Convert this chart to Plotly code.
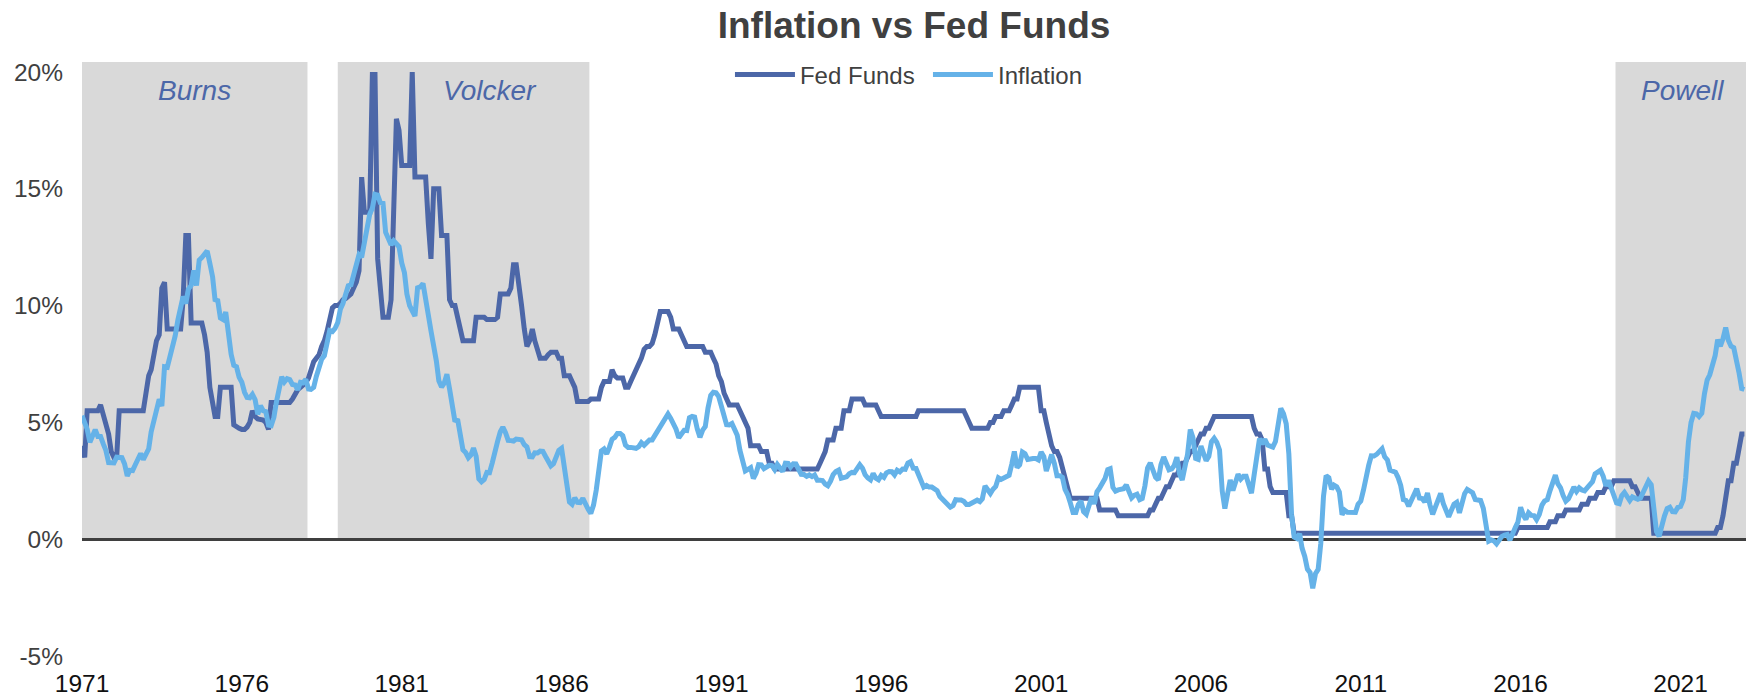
import pandas as pd
import plotly.graph_objects as go

FED_COLOR = "#4C67A8"
CPI_COLOR = "#65B2E8"
BAND_COLOR = "#D9D9D9"
TEXT_DARK = "#404040"
FONT = "Liberation Sans, Arial, sans-serif"

# monthly values, Jan 1971 .. Jan 2023 (one row per year)
fed_funds = [
    4.0, 3.5, 5.5, 5.5, 5.5, 5.5, 5.5, 5.75, 5.25, 5.0, 4.5, 3.75,
    3.5, 3.5, 5.5, 5.5, 5.5, 5.5, 5.5, 5.5, 5.5, 5.5, 5.5, 5.5,
    6.25, 7.0, 7.25, 8.0, 8.5, 8.75, 10.75, 11.0, 9.0, 9.0, 9.0, 9.0,
    9.0, 9.0, 10.25, 13.0, 13.0, 9.25, 9.25, 9.25, 9.25, 9.25, 8.75, 8.0,
    6.5, 5.75, 5.25, 5.25, 6.5, 6.5, 6.5, 6.5, 6.5, 4.9, 4.8, 4.75,
    4.7, 4.7, 4.8, 5.0, 5.5, 5.25, 5.15, 5.15, 5.1, 5.0, 4.7, 5.85,
    5.85, 5.85, 5.85, 5.85, 5.85, 5.85, 5.85, 6.0, 6.25, 6.4, 6.5, 6.6,
    6.7, 6.9, 7.2, 7.6, 7.75, 7.9, 8.25, 8.5, 8.9, 9.5, 9.9, 10.0,
    10.0, 10.1, 10.25, 10.3, 10.4, 10.5, 10.75, 11.0, 11.5, 15.5, 14.0, 14.0,
    14.0, 20.0, 20.0, 12.0, 10.5, 9.5, 9.5, 9.5, 10.25, 14.0, 18.0, 17.5,
    16.0, 16.0, 16.0, 16.0, 20.0, 15.5, 15.5, 15.5, 15.5, 15.5, 13.5, 12.0,
    15.0, 15.0, 15.0, 13.0, 13.0, 13.0, 10.25, 10.0, 10.0, 9.5, 9.0, 8.5,
    8.5, 8.5, 8.5, 8.5, 9.5, 9.5, 9.5, 9.5, 9.4, 9.4, 9.4, 9.4,
    9.5, 10.5, 10.5, 10.5, 10.5, 10.75, 11.75, 11.75, 11.0, 10.0, 9.0, 8.25,
    8.5, 9.0, 8.5, 8.0, 7.75, 7.75, 7.75, 7.9, 8.0, 8.0, 8.0, 7.75,
    7.75, 7.0, 7.0, 7.0, 6.75, 6.5, 5.9, 5.9, 5.9, 5.9, 5.9, 6.0,
    6.0, 6.0, 6.0, 6.5, 6.75, 6.75, 6.75, 7.25, 7.0, 6.9, 6.9, 6.9,
    6.5, 6.5, 6.75, 7.0, 7.25, 7.5, 7.75, 8.125, 8.25, 8.25, 8.375, 8.75,
    9.25, 9.75, 9.75, 9.75, 9.75, 9.5, 9.0, 9.0, 9.0, 8.75, 8.5, 8.25,
    8.25, 8.25, 8.25, 8.25, 8.25, 8.25, 8.0, 8.0, 8.0, 7.75, 7.5, 7.0,
    6.75, 6.25, 6.0, 5.75, 5.75, 5.75, 5.75, 5.5, 5.25, 5.0, 4.75, 4.0,
    4.0, 4.0, 4.0, 3.75, 3.75, 3.75, 3.25, 3.25, 3.0, 3.0, 3.0, 3.0,
    3.0, 3.0, 3.0, 3.0, 3.0, 3.0, 3.0, 3.0, 3.0, 3.0, 3.0, 3.0,
    3.0, 3.25, 3.5, 3.75, 4.25, 4.25, 4.25, 4.75, 4.75, 4.75, 5.5, 5.5,
    5.5, 6.0, 6.0, 6.0, 6.0, 6.0, 5.75, 5.75, 5.75, 5.75, 5.75, 5.5,
    5.25, 5.25, 5.25, 5.25, 5.25, 5.25, 5.25, 5.25, 5.25, 5.25, 5.25, 5.25,
    5.25, 5.25, 5.5, 5.5, 5.5, 5.5, 5.5, 5.5, 5.5, 5.5, 5.5, 5.5,
    5.5, 5.5, 5.5, 5.5, 5.5, 5.5, 5.5, 5.5, 5.25, 5.0, 4.75, 4.75,
    4.75, 4.75, 4.75, 4.75, 4.75, 5.0, 5.0, 5.25, 5.25, 5.25, 5.5, 5.5,
    5.5, 5.75, 6.0, 6.0, 6.5, 6.5, 6.5, 6.5, 6.5, 6.5, 6.5, 6.5,
    5.5, 5.5, 5.0, 4.5, 4.0, 3.75, 3.75, 3.5, 3.0, 2.5, 2.0, 1.75,
    1.75, 1.75, 1.75, 1.75, 1.75, 1.75, 1.75, 1.75, 1.75, 1.75, 1.25, 1.25,
    1.25, 1.25, 1.25, 1.25, 1.25, 1.0, 1.0, 1.0, 1.0, 1.0, 1.0, 1.0,
    1.0, 1.0, 1.0, 1.0, 1.0, 1.25, 1.25, 1.5, 1.75, 1.75, 2.0, 2.25,
    2.25, 2.5, 2.75, 2.75, 3.0, 3.25, 3.25, 3.5, 3.75, 3.75, 4.0, 4.25,
    4.5, 4.5, 4.75, 4.75, 5.0, 5.25, 5.25, 5.25, 5.25, 5.25, 5.25, 5.25,
    5.25, 5.25, 5.25, 5.25, 5.25, 5.25, 5.25, 5.25, 4.75, 4.5, 4.5, 4.25,
    3.0, 3.0, 2.25, 2.0, 2.0, 2.0, 2.0, 2.0, 2.0, 1.0, 1.0, 0.25,
    0.25, 0.25, 0.25, 0.25, 0.25, 0.25, 0.25, 0.25, 0.25, 0.25, 0.25, 0.25,
    0.25, 0.25, 0.25, 0.25, 0.25, 0.25, 0.25, 0.25, 0.25, 0.25, 0.25, 0.25,
    0.25, 0.25, 0.25, 0.25, 0.25, 0.25, 0.25, 0.25, 0.25, 0.25, 0.25, 0.25,
    0.25, 0.25, 0.25, 0.25, 0.25, 0.25, 0.25, 0.25, 0.25, 0.25, 0.25, 0.25,
    0.25, 0.25, 0.25, 0.25, 0.25, 0.25, 0.25, 0.25, 0.25, 0.25, 0.25, 0.25,
    0.25, 0.25, 0.25, 0.25, 0.25, 0.25, 0.25, 0.25, 0.25, 0.25, 0.25, 0.25,
    0.25, 0.25, 0.25, 0.25, 0.25, 0.25, 0.25, 0.25, 0.25, 0.25, 0.25, 0.5,
    0.5, 0.5, 0.5, 0.5, 0.5, 0.5, 0.5, 0.5, 0.5, 0.5, 0.5, 0.75,
    0.75, 0.75, 1.0, 1.0, 1.0, 1.25, 1.25, 1.25, 1.25, 1.25, 1.25, 1.5,
    1.5, 1.5, 1.75, 1.75, 1.75, 2.0, 2.0, 2.0, 2.25, 2.25, 2.25, 2.5,
    2.5, 2.5, 2.5, 2.5, 2.5, 2.5, 2.25, 2.25, 2.0, 1.75, 1.75, 1.75,
    1.75, 1.75, 0.25, 0.25, 0.25, 0.25, 0.25, 0.25, 0.25, 0.25, 0.25, 0.25,
    0.25, 0.25, 0.25, 0.25, 0.25, 0.25, 0.25, 0.25, 0.25, 0.25, 0.25, 0.25,
    0.25, 0.25, 0.5, 0.5, 1.0, 1.75, 2.5, 2.5, 3.25, 3.25, 4.0, 4.5,
    4.5,
]

inflation = [
    5.29, 5.00, 4.71, 4.15, 4.40, 4.69, 4.40, 4.40, 4.08, 3.80, 3.28, 3.27,
    3.27, 3.51, 3.50, 3.49, 3.23, 2.71, 2.95, 2.94, 3.19, 3.42, 3.67, 3.41,
    3.65, 3.87, 4.59, 5.06, 5.53, 5.99, 5.70, 7.38, 7.36, 7.80, 8.25, 8.71,
    9.39, 10.02, 10.39, 10.09, 10.71, 10.86, 11.51, 10.86, 11.95, 12.06, 12.20, 12.34,
    11.80, 11.23, 10.25, 10.21, 9.47, 9.40, 9.72, 8.60, 7.91, 7.44, 7.38, 6.94,
    6.72, 6.29, 6.07, 6.05, 6.20, 5.97, 5.35, 5.71, 5.50, 5.46, 4.88, 4.86,
    5.21, 5.91, 6.44, 6.95, 6.73, 6.87, 6.83, 6.62, 6.60, 6.39, 6.72, 6.70,
    6.84, 6.43, 6.41, 6.50, 6.97, 7.41, 7.70, 7.86, 8.31, 8.93, 8.89, 9.02,
    9.28, 9.86, 10.09, 10.49, 10.85, 10.89, 11.26, 11.82, 12.18, 12.07, 12.61, 13.29,
    13.91, 14.18, 14.76, 14.73, 14.41, 14.38, 13.13, 12.87, 12.60, 12.77, 12.65, 12.52,
    11.83, 11.41, 10.49, 10.00, 9.78, 9.55, 10.76, 10.80, 10.95, 10.14, 9.59, 8.92,
    8.39, 7.62, 6.78, 6.51, 6.68, 7.06, 6.44, 5.85, 5.04, 5.14, 4.59, 3.83,
    3.71, 3.49, 3.60, 3.90, 3.55, 2.58, 2.46, 2.56, 2.86, 2.85, 3.27, 3.79,
    4.19, 4.60, 4.80, 4.56, 4.23, 4.22, 4.20, 4.29, 4.27, 4.26, 4.05, 3.95,
    3.53, 3.52, 3.70, 3.69, 3.77, 3.76, 3.55, 3.35, 3.14, 3.23, 3.51, 3.80,
    3.89, 3.11, 2.26, 1.59, 1.49, 1.77, 1.58, 1.57, 1.75, 1.47, 1.28, 1.10,
    1.46, 2.10, 3.03, 3.78, 3.86, 3.65, 3.93, 4.28, 4.36, 4.53, 4.53, 4.43,
    4.03, 3.93, 3.93, 3.90, 3.89, 3.96, 4.13, 4.02, 4.17, 4.25, 4.25, 4.42,
    4.67, 4.83, 4.98, 5.11, 5.36, 5.17, 4.98, 4.71, 4.34, 4.47, 4.66, 4.65,
    5.20, 5.26, 5.23, 4.71, 4.36, 4.67, 4.82, 5.62, 6.16, 6.29, 6.27, 6.11,
    5.65, 5.31, 4.90, 4.89, 4.95, 4.70, 4.45, 3.80, 3.39, 2.92, 2.99, 3.06,
    2.60, 2.82, 3.19, 3.18, 3.02, 3.09, 3.16, 3.15, 2.98, 3.20, 3.05, 2.90,
    3.26, 3.25, 3.09, 3.23, 3.22, 3.00, 2.78, 2.77, 2.69, 2.75, 2.68, 2.75,
    2.52, 2.52, 2.51, 2.36, 2.29, 2.49, 2.77, 2.90, 2.96, 2.61, 2.67, 2.67,
    2.80, 2.86, 2.85, 3.05, 3.19, 3.04, 2.76, 2.62, 2.54, 2.81, 2.61, 2.54,
    2.73, 2.65, 2.84, 2.90, 2.89, 2.75, 2.95, 2.88, 3.00, 2.99, 3.26, 3.32,
    3.04, 3.03, 2.76, 2.50, 2.23, 2.30, 2.23, 2.23, 2.15, 2.08, 1.83, 1.70,
    1.57, 1.44, 1.37, 1.44, 1.69, 1.68, 1.68, 1.62, 1.49, 1.49, 1.55, 1.61,
    1.67, 1.61, 1.73, 2.28, 2.09, 1.96, 2.14, 2.26, 2.63, 2.56, 2.62, 2.68,
    2.74, 3.22, 3.76, 3.07, 3.19, 3.73, 3.66, 3.41, 3.45, 3.45, 3.45, 3.39,
    3.73, 3.53, 2.92, 3.27, 3.62, 3.25, 2.72, 2.72, 2.65, 2.13, 1.90, 1.55,
    1.14, 1.14, 1.48, 1.64, 1.18, 1.07, 1.46, 1.80, 1.51, 2.03, 2.20, 2.38,
    2.60, 2.98, 3.02, 2.22, 2.06, 2.11, 2.11, 2.16, 2.32, 2.04, 1.77, 1.88,
    1.93, 1.69, 1.74, 2.29, 3.05, 3.27, 2.99, 2.65, 2.54, 3.19, 3.52, 3.26,
    2.97, 3.01, 3.15, 3.51, 2.80, 2.53, 3.17, 3.64, 4.69, 4.35, 3.46, 3.42,
    3.99, 3.60, 3.36, 3.55, 4.17, 4.32, 4.15, 3.82, 2.06, 1.31, 1.97, 2.54,
    2.08, 2.42, 2.78, 2.57, 2.69, 2.69, 2.36, 1.97, 2.76, 3.54, 4.31, 4.08,
    4.28, 4.03, 3.98, 3.94, 4.18, 5.02, 5.60, 5.37, 4.94, 3.66, 1.07, 0.09,
    0.03, 0.24, -0.38, -0.74, -1.28, -1.43, -2.10, -1.48, -1.29, -0.18, 1.84, 2.72,
    2.63, 2.14, 2.31, 2.24, 2.02, 1.05, 1.24, 1.15, 1.14, 1.17, 1.14, 1.50,
    1.63, 2.11, 2.68, 3.16, 3.57, 3.56, 3.63, 3.77, 3.87, 3.53, 3.39, 2.96,
    2.93, 2.87, 2.65, 2.30, 1.70, 1.66, 1.41, 1.69, 1.99, 2.16, 1.76, 1.74,
    1.59, 1.98, 1.47, 1.06, 1.36, 1.75, 1.96, 1.52, 1.18, 0.96, 1.24, 1.50,
    1.58, 1.13, 1.51, 1.95, 2.13, 2.07, 1.99, 1.70, 1.66, 1.66, 1.32, 0.76,
    -0.09, -0.03, -0.07, -0.20, -0.04, 0.12, 0.17, 0.20, -0.04, 0.17, 0.50, 0.73,
    1.37, 1.02, 0.85, 1.13, 1.02, 1.01, 0.84, 1.06, 1.46, 1.64, 1.69, 2.07,
    2.50, 2.74, 2.38, 2.20, 1.87, 1.63, 1.73, 1.94, 2.23, 2.04, 2.20, 2.11,
    2.07, 2.21, 2.36, 2.46, 2.80, 2.87, 2.95, 2.70, 2.28, 2.52, 2.18, 1.91,
    1.55, 1.52, 1.86, 2.00, 1.79, 1.65, 1.81, 1.75, 1.71, 1.76, 2.05, 2.29,
    2.49, 2.33, 1.54, 0.33, 0.12, 0.65, 0.99, 1.31, 1.37, 1.18, 1.17, 1.36,
    1.40, 1.68, 2.62, 4.16, 4.99, 5.39, 5.37, 5.25, 5.39, 6.22, 6.81, 7.04,
    7.48, 7.87, 8.54, 8.26, 8.58, 9.06, 8.52, 8.26, 8.20, 7.75, 7.11, 6.45,
    6.41,
]

# Fed chair shading
chairs = ["Burns", "Volcker", "Powell"]
chair_start = ["1971-01-01", "1979-01-01", "2018-12-20"]
chair_end = ["1978-01-20", "1986-11-15", "2023-03-01"]
chair_label_x = ["1974-07-10", "1983-10-10", "2021-01-25"]

tick_years = list(range(1971, 2022, 5))
y_ticks = [-5, 0, 5, 10, 15, 20]

months = pd.date_range("1971-01-01", periods=len(fed_funds), freq="MS")

fig = go.Figure()
fig.add_trace(go.Scatter(
    x=months, y=fed_funds, name="Fed Funds", mode="lines",
    line=dict(color=FED_COLOR, width=5),
))
fig.add_trace(go.Scatter(
    x=months, y=inflation, name="Inflation", mode="lines",
    line=dict(color=CPI_COLOR, width=5),
))

for name, x0, x1, xl in zip(chairs, chair_start, chair_end, chair_label_x):
    fig.add_shape(
        type="rect", xref="x", yref="paper",
        x0=x0, x1=x1, y0=0.2, y1=1.017,
        fillcolor=BAND_COLOR, line_width=0, layer="below",
    )
    fig.add_annotation(
        x=xl, y=0.969, xref="x", yref="paper",
        text=f"<i>{name}</i>", showarrow=False,
        xanchor="center", yanchor="middle",
        font=dict(family=FONT, size=28, color=FED_COLOR),
    )

fig.update_layout(
    width=1746, height=698,
    margin=dict(l=82, r=0, t=72, b=42),
    paper_bgcolor="white", plot_bgcolor="white",
    font=dict(family=FONT, color=TEXT_DARK),
    title=dict(
        text="<b>Inflation vs Fed Funds</b>",
        x=0.5, xref="paper", xanchor="center",
        y=1 - 25 / 698, yref="container", yanchor="middle",
        font=dict(family=FONT, size=37, color=TEXT_DARK),
    ),
    legend=dict(
        orientation="h", x=0.3894, xanchor="left",
        y=0.995, yanchor="middle",
        font=dict(family=FONT, size=24, color=TEXT_DARK),
        bgcolor="rgba(0,0,0,0)", itemwidth=60,
        entrywidth=123, entrywidthmode="pixels",
    ),
    xaxis=dict(
        type="date", range=["1971-01-01", "2023-01-19"],
        tickvals=[f"{y}-01-01" for y in tick_years],
        ticktext=[str(y) for y in tick_years],
        showgrid=False, zeroline=False, showline=False, ticks="",
        tickfont=dict(family=FONT, size=24.5, color="#111111"),
        ticklabelstandoff=10, automargin=False,
    ),
    yaxis=dict(
        range=[-5, 20], tickvals=y_ticks,
        ticktext=[f"{v}%" for v in y_ticks],
        showgrid=False, zeroline=True,
        zerolinecolor="#3f3f3f", zerolinewidth=3,
        showline=False, ticks="",
        tickfont=dict(family=FONT, size=24.5, color=TEXT_DARK),
        ticklabelstandoff=18, automargin=False,
    ),
)

fig.write_html(
    "out.html",
    config={"displayModeBar": False},
    post_script="document.body.style.margin='0';",
)
